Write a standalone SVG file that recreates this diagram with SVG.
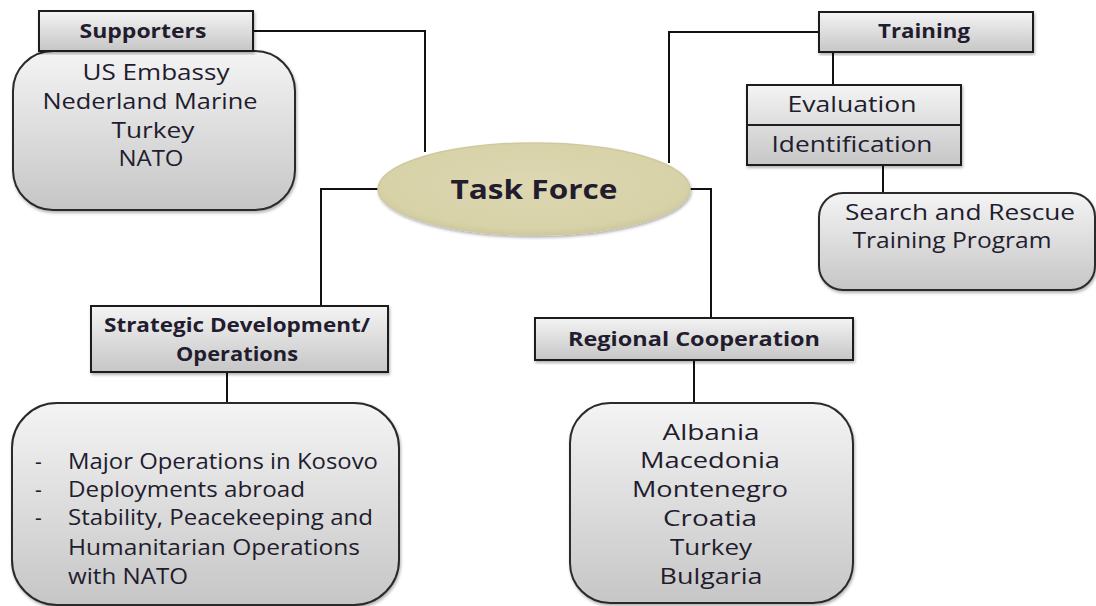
<svg xmlns="http://www.w3.org/2000/svg" width="1096" height="606" viewBox="0 0 1096 606">
<style>
.box{fill:url(#g);stroke:#1e1e1e;stroke-width:2}
.rbox{fill:url(#g);stroke:#2a2a2a;stroke-width:2}
.conn{fill:none;stroke:#111;stroke-width:2}
text{font-family:"Open Sans","Liberation Sans",sans-serif;fill:#221c2e}
.h{font-weight:bold;font-size:20px;text-anchor:middle}
.t{font-size:21px;text-anchor:middle}
.l{font-size:21px}
</style>
<defs>
<linearGradient id="g" x1="0" y1="0" x2="0" y2="1">
<stop offset="0" stop-color="#f4f4f4"/>
<stop offset="1" stop-color="#c6c6c6"/>
</linearGradient>
<radialGradient id="eg" cx="0.5" cy="0.45" r="0.6">
<stop offset="0" stop-color="#ddd7b3"/>
<stop offset="0.8" stop-color="#d8d2a8"/>
<stop offset="1" stop-color="#c9c296"/>
</radialGradient>
<filter id="sh" x="-5%" y="-5%" width="110%" height="115%">
<feDropShadow dx="1" dy="2" stdDeviation="1.5" flood-color="#000" flood-opacity="0.3"/>
</filter>
</defs>
<g id="connectors">
<polyline class="conn" points="253,31 425,31 425,152"/>
<polyline class="conn" points="378,189 321,189 321,306"/>
<polyline class="conn" points="690,189 711,189 711,318"/>
<polyline class="conn" points="819,32 669,32 669,163"/>
<line class="conn" x1="833" y1="52" x2="833" y2="85"/>
<line class="conn" x1="883" y1="165" x2="883" y2="193"/>
<line class="conn" x1="227" y1="372" x2="227" y2="403"/>
<line class="conn" x1="694" y1="360" x2="694" y2="403"/>
</g>
<g id="supporters-list">
<rect class="rbox" x="13" y="51" width="282" height="159" rx="40" filter="url(#sh)"/>
<text class="t" x="156" y="80" textLength="147" lengthAdjust="spacingAndGlyphs">US Embassy</text>
<text class="t" x="150" y="109" textLength="215" lengthAdjust="spacingAndGlyphs">Nederland Marine</text>
<text class="t" x="153" y="138" textLength="83" lengthAdjust="spacingAndGlyphs">Turkey</text>
<text class="t" x="151" y="166" textLength="65" lengthAdjust="spacingAndGlyphs">NATO</text>
</g>
<g id="supporters">
<rect class="box" x="39" y="11" width="214" height="40" filter="url(#sh)"/>
<text class="h" x="143" y="38" textLength="127" lengthAdjust="spacingAndGlyphs">Supporters</text>
</g>
<g id="task-force">
<ellipse cx="534" cy="189" rx="156" ry="46" fill="url(#eg)" stroke="#cfc9a0" stroke-width="1.5" filter="url(#sh)"/>
<text x="534" y="199" font-size="27" font-weight="bold" text-anchor="middle" textLength="167" lengthAdjust="spacingAndGlyphs">Task Force</text>
</g>
<g id="training">
<rect class="box" x="819" y="12" width="214" height="40" filter="url(#sh)"/>
<text class="h" x="924" y="38" textLength="92" lengthAdjust="spacingAndGlyphs">Training</text>
</g>
<g id="evaluation">
<rect class="box" x="747" y="85" width="214" height="80" filter="url(#sh)"/>
<line x1="747" y1="125" x2="961" y2="125" stroke="#1e1e1e" stroke-width="2"/>
<text class="t" x="852" y="112" textLength="129" lengthAdjust="spacingAndGlyphs">Evaluation</text>
<text class="t" x="852" y="152" textLength="161" lengthAdjust="spacingAndGlyphs">Identification</text>
</g>
<g id="search-rescue">
<rect class="rbox" x="819" y="193" width="276" height="97" rx="24" filter="url(#sh)"/>
<text class="t" x="960" y="220" textLength="230" lengthAdjust="spacingAndGlyphs">Search and Rescue</text>
<text class="t" x="952" y="248" textLength="199" lengthAdjust="spacingAndGlyphs">Training Program</text>
</g>
<g id="strategic">
<rect class="box" x="91" y="306" width="297" height="66" filter="url(#sh)"/>
<text class="h" x="237" y="332" textLength="266" lengthAdjust="spacingAndGlyphs">Strategic Development/</text>
<text class="h" x="237" y="361" textLength="122" lengthAdjust="spacingAndGlyphs">Operations</text>
</g>
<g id="strategic-list">
<rect class="rbox" x="12" y="403" width="387" height="202" rx="45" filter="url(#sh)"/>
<text class="l" x="35" y="469">-</text>
<text class="l" x="68" y="469" textLength="310" lengthAdjust="spacingAndGlyphs">Major Operations in Kosovo</text>
<text class="l" x="35" y="497">-</text>
<text class="l" x="68" y="497" textLength="237" lengthAdjust="spacingAndGlyphs">Deployments abroad</text>
<text class="l" x="35" y="525">-</text>
<text class="l" x="68" y="525" textLength="305" lengthAdjust="spacingAndGlyphs">Stability, Peacekeeping and</text>
<text class="l" x="68" y="555" textLength="292" lengthAdjust="spacingAndGlyphs">Humanitarian Operations</text>
<text class="l" x="68" y="584" textLength="120" lengthAdjust="spacingAndGlyphs">with NATO</text>
</g>
<g id="regional">
<rect class="box" x="535" y="318" width="318" height="42" filter="url(#sh)"/>
<text class="h" x="694" y="346" textLength="252" lengthAdjust="spacingAndGlyphs">Regional Cooperation</text>
</g>
<g id="regional-list">
<rect class="rbox" x="570" y="403" width="283" height="200" rx="40" filter="url(#sh)"/>
<text class="t" x="711" y="440" textLength="97" lengthAdjust="spacingAndGlyphs">Albania</text>
<text class="t" x="710" y="468" textLength="140" lengthAdjust="spacingAndGlyphs">Macedonia</text>
<text class="t" x="710" y="497" textLength="156" lengthAdjust="spacingAndGlyphs">Montenegro</text>
<text class="t" x="710" y="526" textLength="94" lengthAdjust="spacingAndGlyphs">Croatia</text>
<text class="t" x="711" y="555" textLength="82" lengthAdjust="spacingAndGlyphs">Turkey</text>
<text class="t" x="711" y="584" textLength="103" lengthAdjust="spacingAndGlyphs">Bulgaria</text>
</g>
</svg>
